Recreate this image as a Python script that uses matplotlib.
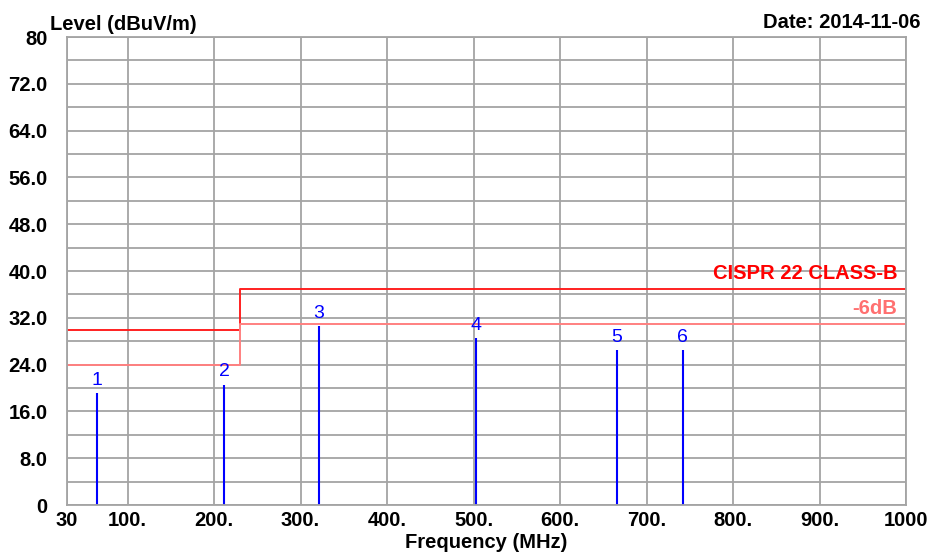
import matplotlib
matplotlib.use('Agg')
import matplotlib.pyplot as plt
from matplotlib.ticker import MultipleLocator, FixedLocator

# limit lines (CISPR 22 class B and the -6 dB margin)
limit_freq = [30, 230, 230, 1000]
limit_level = [30, 30, 37, 37]
margin_level = [24, 24, 31, 31]

# measured peaks
peak_id = ['1', '2', '3', '4', '5', '6']
peak_freq = [64.5, 212.0, 320.8, 503.0, 665.3, 742.0]
peak_level = [19.1, 20.6, 30.6, 28.5, 26.5, 26.5]

x_ticks = [30, 100, 200, 300, 400, 500, 600, 700, 800, 900, 1000]
x_labels = ['30', '100.', '200.', '300.', '400.', '500.', '600.', '700.', '800.', '900.', '1000']
y_ticks = [0, 8, 16, 24, 32, 40, 48, 56, 64, 72, 80]
y_labels = ['0', '8.0', '16.0', '24.0', '32.0', '40.0', '48.0', '56.0', '64.0', '72.0', '80']

plt.rcParams['font.family'] = ['Liberation Sans', 'DejaVu Sans']
fs = 14.5

fig = plt.figure(figsize=(9.28, 5.54), dpi=100)
ax = fig.add_axes([0.0722, 0.0884, 0.9041, 0.8448])

grid_c = '#a4a4a4'
ax.set_xlim(30, 1000)
ax.set_ylim(0, 80)
ax.xaxis.set_major_locator(FixedLocator(x_ticks))
ax.set_xticklabels(x_labels)
ax.yaxis.set_major_locator(FixedLocator(y_ticks))
ax.set_yticklabels(y_labels)
ax.yaxis.set_minor_locator(MultipleLocator(4))
ax.grid(True, which='both', color=grid_c, lw=1.3)
ax.set_axisbelow(True)
ax.tick_params(which='both', length=0, labelsize=fs)
ax.tick_params(axis='x', pad=4)
ax.tick_params(axis='y', pad=14)
for lab in ax.get_xticklabels() + ax.get_yticklabels():
    lab.set_fontweight('bold')
for s in ax.spines.values():
    s.set_color(grid_c)
    s.set_linewidth(1.3)

ax.plot(limit_freq, limit_level, color='#ff2020', lw=1.4)
ax.plot(limit_freq, margin_level, color='#ff8080', lw=1.4)
ax.text(990, 38.0, 'CISPR 22 CLASS-B', color='#ff0000', fontsize=fs,
        fontweight='bold', ha='right', va='bottom')
ax.text(990, 32.0, '-6dB', color='#ff7070', fontsize=fs,
        fontweight='bold', ha='right', va='bottom')

ax.vlines(peak_freq, 0, peak_level, color='#0000ff', lw=1.5)
for pid, f, lv in zip(peak_id, peak_freq, peak_level):
    ax.annotate(pid, (f, lv), xytext=(0, 3), textcoords='offset points',
                ha='center', va='bottom', color='#0000ff', fontsize=14)

fig.text(50 / 928, 1 - 24 / 554, 'Level (dBuV/m)', fontsize=fs,
         fontweight='bold', ha='left', va='center')
fig.text(921 / 928, 1 - 22 / 554, 'Date: 2014-11-06', fontsize=fs,
         fontweight='bold', ha='right', va='center')
fig.text(486 / 928, 1 - 542 / 554, 'Frequency (MHz)', fontsize=fs,
         fontweight='bold', ha='center', va='center')

fig.savefig('out.png', dpi=100)
